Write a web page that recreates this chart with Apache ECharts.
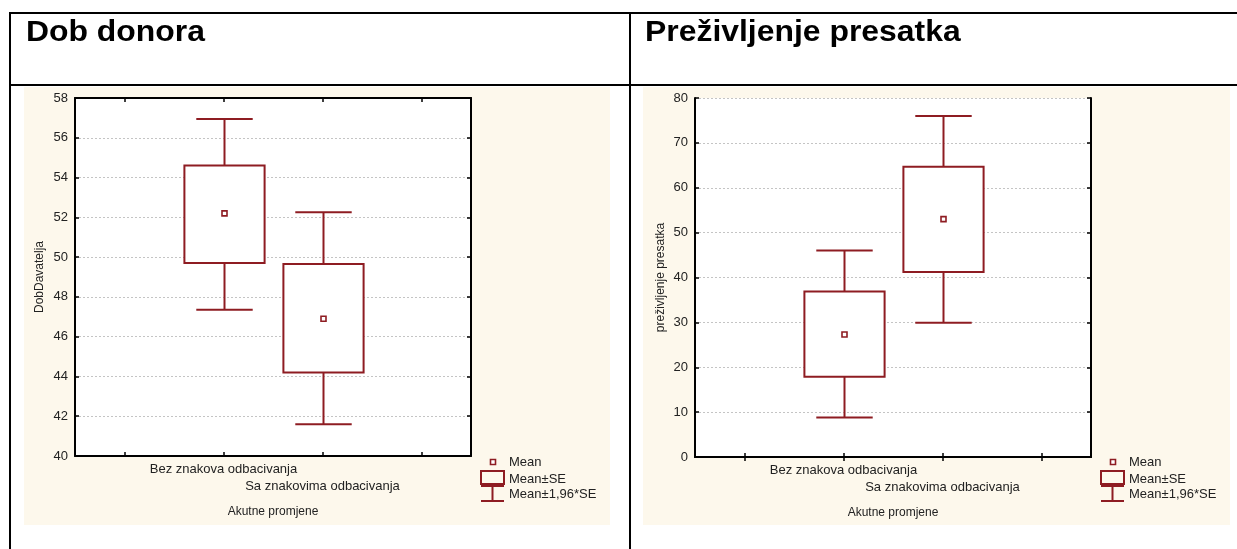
<!DOCTYPE html>
<html>
<head>
<meta charset="utf-8">
<script src="https://cdn.jsdelivr.net/npm/echarts@6/dist/echarts.min.js"></script>
<style>
  html, body { margin: 0; padding: 0; background: #fff; }
  #chart { width: 1237px; height: 549px; }
</style>
</head>
<body>
<div id="chart"></div>
<script>
// categories (first and last slot are empty ticks, as in the original plot)
const cats = ['', 'Bez znakova odbacivanja', 'Sa znakovima odbacivanja', ''];

// Dob donora (DobDavatelja)
const dobMean   = [52.2, 46.9];
const dobSeLow  = [49.7, 44.2];
const dobSeHigh = [54.6, 49.65];
const dobCiLow  = [47.35, 41.6];
const dobCiHigh = [56.95, 52.25];
const dobTicks  = { min: 40, max: 58, interval: 2 };

// Preživljenje presatka
const prezMean   = [27.3, 53.0];
const prezSeLow  = [17.9, 41.2];
const prezSeHigh = [36.9, 64.7];
const prezCiLow  = [8.8, 29.9];
const prezCiHigh = [46.0, 76.0];
const prezTicks  = { min: 0, max: 80, interval: 10 };

const RED = '#8e1c22';
const FONT = '"Liberation Sans", Arial, sans-serif';
const BEIGE = '#fdf8ec';

function rows(mean, seLo, seHi, ciLo, ciHi) {
  return mean.map((m, i) => [i + 1, ciLo[i], seLo[i], m, seHi[i], ciHi[i]]);
}

function renderBox(params, api) {
  const x = api.value(0);
  const band = api.size([1, 0])[0];
  const ciLo = api.coord([x, api.value(1)]);
  const seLo = api.coord([x, api.value(2)]);
  const mean = api.coord([x, api.value(3)]);
  const seHi = api.coord([x, api.value(4)]);
  const ciHi = api.coord([x, api.value(5)]);
  const cx = Math.round(mean[0]) + 0.5;
  const bw = band * 0.81, cw = band * 0.57;
  const line = { stroke: RED, lineWidth: 2, fill: null };
  return {
    type: 'group',
    children: [
      { type: 'line', shape: { x1: cx, y1: ciHi[1], x2: cx, y2: seHi[1] }, style: line },
      { type: 'line', shape: { x1: cx, y1: seLo[1], x2: cx, y2: ciLo[1] }, style: line },
      { type: 'line', shape: { x1: cx - cw / 2, y1: ciHi[1], x2: cx + cw / 2, y2: ciHi[1] }, style: line },
      { type: 'line', shape: { x1: cx - cw / 2, y1: ciLo[1], x2: cx + cw / 2, y2: ciLo[1] }, style: line },
      { type: 'rect', shape: { x: cx - bw / 2, y: seHi[1], width: bw, height: seLo[1] - seHi[1] },
        style: { stroke: RED, lineWidth: 2, fill: '#fff' } },
      { type: 'rect', shape: { x: cx - 2.5, y: mean[1] - 2.5, width: 5, height: 5 },
        style: { stroke: RED, lineWidth: 1.6, fill: '#fff' } }
    ]
  };
}

function xAxes(gi) {
  const base = {
    type: 'category', gridIndex: gi, data: cats,
    axisLine: { lineStyle: { color: '#000', width: 2 } },
    axisTick: { show: true, interval: 0, inside: true, alignWithLabel: true, length: 4,
      lineStyle: { color: '#000', width: 1.5 } },
    splitLine: { show: false }
  };
  return [
    Object.assign({}, base, {
      position: 'bottom',
      name: 'Akutne promjene', nameLocation: 'middle', nameGap: 50,
      nameTextStyle: { color: '#222', fontSize: 12, fontFamily: FONT },
      axisLabel: {
        interval: 0, margin: 5, color: '#222', fontSize: 13, fontFamily: FONT, lineHeight: 17,
        formatter: (v, i) => (i === 2 ? '\n' + v : v)
      }
    }),
    Object.assign({}, base, { position: 'top', axisLabel: { show: false } })
  ];
}

function yAxes(gi, t, name, gap) {
  const base = {
    type: 'value', gridIndex: gi, min: t.min, max: t.max, interval: t.interval,
    axisLine: { show: true, lineStyle: { color: '#000', width: 2 } },
    axisTick: { show: true, inside: true, length: 4, lineStyle: { color: '#000', width: 1.5 } }
  };
  return [
    Object.assign({}, base, {
      position: 'left',
      name: name, nameLocation: 'middle', nameGap: gap, nameRotate: 90,
      nameTextStyle: { color: '#222', fontSize: 12, fontFamily: FONT },
      axisLabel: { margin: 7, color: '#222', fontSize: 13, fontFamily: FONT },
      splitLine: { show: true, lineStyle: { color: '#c4c4c4', type: [2, 2], width: 1 } }
    }),
    Object.assign({}, base, {
      position: 'right', axisLabel: { show: false }, splitLine: { show: false }
    })
  ];
}

function legend(x0, y0) {
  const s = { stroke: RED, lineWidth: 2, fill: null };
  const txt = (t, y) => ({ type: 'text', x: x0 + 28, y: y,
    style: { text: t, fill: '#222', font: '13px ' + FONT, verticalAlign: 'middle' } });
  return [
    { type: 'rect', shape: { x: x0 + 9.5, y: y0 - 2.5, width: 5, height: 5 }, style: { stroke: RED, lineWidth: 1.6, fill: '#fff' } },
    txt('Mean', y0),
    { type: 'rect', shape: { x: x0, y: y0 + 9, width: 23, height: 13 }, style: s },
    txt('Mean±SE', y0 + 17),
    { type: 'line', shape: { x1: x0, y1: y0 + 24, x2: x0 + 23, y2: y0 + 24 }, style: s },
    { type: 'line', shape: { x1: x0 + 11.5, y1: y0 + 24, x2: x0 + 11.5, y2: y0 + 39 }, style: s },
    { type: 'line', shape: { x1: x0, y1: y0 + 39, x2: x0 + 23, y2: y0 + 39 }, style: s },
    txt('Mean±1,96*SE', y0 + 32)
  ];
}

const frame = { stroke: '#000', lineWidth: 2 };
const titleStyle = (t) => ({ text: t, fill: '#000', font: 'bold 29px ' + FONT, verticalAlign: 'middle' });
const graphics = [
  { type: 'rect', z: -10, shape: { x: 24, y: 87, width: 586, height: 438 }, style: { fill: BEIGE } },
  { type: 'rect', z: -10, shape: { x: 643, y: 87, width: 587, height: 438 }, style: { fill: BEIGE } },
  { type: 'line', shape: { x1: 9, y1: 13, x2: 1237, y2: 13 }, style: frame },
  { type: 'line', shape: { x1: 9, y1: 85, x2: 1237, y2: 85 }, style: frame },
  { type: 'line', shape: { x1: 10, y1: 12, x2: 10, y2: 549 }, style: frame },
  { type: 'line', shape: { x1: 630, y1: 12, x2: 630, y2: 549 }, style: frame },
  { type: 'text', x: 26, y: 33, scaleX: 1.1, style: titleStyle('Dob donora') },
  { type: 'text', x: 645, y: 33, scaleX: 1.1, style: titleStyle('Preživljenje presatka') }
].concat(legend(481, 462), legend(1101, 462));

const chart = echarts.init(document.getElementById('chart'), null, { renderer: 'canvas' });
chart.setOption({
  animation: false,
  backgroundColor: '#fff',
  graphic: graphics,
  grid: [
    { left: 75, top: 98, width: 396, height: 358, show: true, backgroundColor: '#fff', borderWidth: 0 },
    { left: 695, top: 98, width: 396, height: 359, show: true, backgroundColor: '#fff', borderWidth: 0 }
  ],
  xAxis: xAxes(0).concat(xAxes(1)),
  yAxis: yAxes(0, dobTicks, 'DobDavatelja', 29).concat(yAxes(1, prezTicks, 'preživljenje presatka', 28)),
  series: [
    { type: 'custom', xAxisIndex: 0, yAxisIndex: 0, renderItem: renderBox,
      encode: { x: 0, y: [1, 2, 3, 4, 5] },
      data: rows(dobMean, dobSeLow, dobSeHigh, dobCiLow, dobCiHigh) },
    { type: 'custom', xAxisIndex: 2, yAxisIndex: 2, renderItem: renderBox,
      encode: { x: 0, y: [1, 2, 3, 4, 5] },
      data: rows(prezMean, prezSeLow, prezSeHigh, prezCiLow, prezCiHigh) }
  ]
});
</script>
</body>
</html>
